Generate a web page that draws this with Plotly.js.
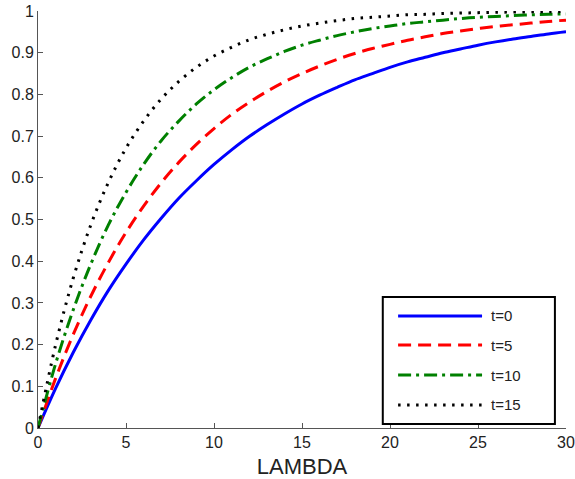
<!DOCTYPE html>
<html>
<head>
<meta charset="utf-8">
<script src="https://cdn.plot.ly/plotly-3.0.1.min.js"></script>
<style>html,body{margin:0;padding:0;background:#fff;}#chart{width:575px;height:479px;}</style>
</head>
<body>
<div id="chart"></div>
<script>
const lambda = [0,1,2,3,4,5,6,7,8,9,10,11,12,13,14,15,16,17,18,19,20,21,22,23,24,25,26,27,28,29,30];
const t0  = [0,0.095,0.181,0.259,0.330,0.393,0.451,0.503,0.551,0.593,0.632,0.667,0.699,0.727,0.753,0.777,0.798,0.817,0.835,0.850,0.865,0.878,0.889,0.900,0.909,0.918,0.926,0.933,0.939,0.945,0.950];
const t5  = [0,0.119,0.224,0.316,0.397,0.469,0.532,0.588,0.637,0.680,0.718,0.752,0.781,0.807,0.830,0.850,0.868,0.884,0.898,0.910,0.920,0.930,0.938,0.946,0.952,0.958,0.963,0.967,0.971,0.975,0.978];
const t10 = [0,0.154,0.283,0.393,0.487,0.565,0.632,0.689,0.736,0.777,0.811,0.840,0.865,0.885,0.903,0.918,0.930,0.941,0.950,0.958,0.964,0.970,0.974,0.978,0.982,0.985,0.987,0.989,0.991,0.992,0.993];
const t15 = [0,0.199,0.359,0.487,0.589,0.671,0.736,0.789,0.831,0.865,0.892,0.913,0.931,0.944,0.955,0.964,0.971,0.977,0.982,0.985,0.988,0.991,0.992,0.994,0.995,0.996,0.997,0.9975,0.998,0.998,0.999];
const names = ['t=0','t=5','t=10','t=15'];
const series = [t0,t5,t10,t15];
const colors = ['#0000ff','#ff0000','#008000','#000000'];
const dashes = ['solid','13px,7px','13px,5px,3px,5px','2.5px,6.5px'];

const traces = series.map((s,i)=>({
  x: lambda, y: s, name: names[i], type:'scatter', mode:'lines', showlegend:false,
  line:{color:colors[i], width:3, dash:dashes[i], shape:'spline', smoothing:1}
}));

// Legend box (paper coordinates)
const legRowsY = [0.2686, 0.199, 0.127, 0.0552];
const shapes = [{type:'rect', xref:'paper', yref:'paper', x0:0.653, x1:0.979, y0:0.0096, y1:0.314,
  line:{color:'#000', width:2}, fillcolor:'#fff', layer:'above'}];
const annotations = [];
names.forEach((n,i)=>{
  shapes.push({type:'line', xref:'paper', yref:'paper', x0:0.682, x1:0.841, y0:legRowsY[i], y1:legRowsY[i],
    line:{color:colors[i], width:3, dash:dashes[i]}, layer:'above'});
  annotations.push({xref:'paper', yref:'paper', x:0.854, y:legRowsY[i], xanchor:'left', yanchor:'middle',
    text:n, showarrow:false, font:{size:15, color:'#222'}});
});

const axisCommon = {
  showline:true, linecolor:'#555', linewidth:1, ticks:'inside', ticklen:5, tickcolor:'#555',
  showgrid:false, zeroline:false, mirror:false,
  tickfont:{family:'Liberation Sans, Arial, sans-serif', size:16, color:'#222'}
};

const layout = {
  width:575, height:479,
  margin:{l:38, r:9, t:11, b:51},
  paper_bgcolor:'#fff', plot_bgcolor:'#fff',
  font:{family:'Liberation Sans, Arial, sans-serif', color:'#222'},
  showlegend:false,
  xaxis: Object.assign({}, axisCommon, {range:[0,30], tickvals:[0,5,10,15,20,25,30],
    title:{text:'LAMBDA', font:{size:22, color:'#222'}, standoff:8}}),
  yaxis: Object.assign({}, axisCommon, {range:[0,1], tickvals:[0,0.1,0.2,0.3,0.4,0.5,0.6,0.7,0.8,0.9,1],
    ticktext:['0','0.1','0.2','0.3','0.4','0.5','0.6','0.7','0.8','0.9','1']}),
  shapes: shapes,
  annotations: annotations
};

Plotly.newPlot('chart', traces, layout, {displayModeBar:false, staticPlot:true});
</script>
</body>
</html>
